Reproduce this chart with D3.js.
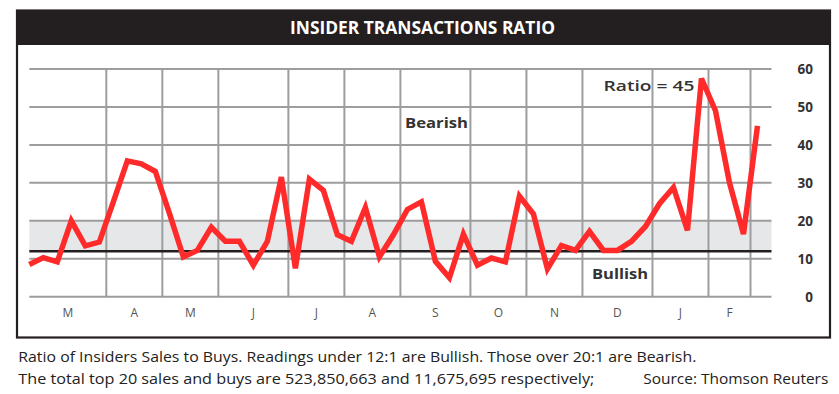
<!DOCTYPE html>
<html>
<head>
<meta charset="utf-8">
<script src="https://cdn.jsdelivr.net/npm/d3@7"></script>
<style>
  html, body { margin: 0; padding: 0; background: #fff; }
  svg { display: block; }
</style>
</head>
<body>
<svg id="chart" width="839" height="394"></svg>
<script>
// ---- data ----
const ratioValues = [8.5, 10.3, 9.2, 20, 13.4, 14.4, 25, 35.8, 35, 33, 22, 10.5, 12.2, 18.3, 14.6, 14.6, 8.3, 14.6, 31.5, 7.5,
  31, 28, 16.3, 14.6, 23.5, 10.5, 16.3, 23, 25, 9.3, 5, 16.5, 8.3, 10.2, 9.2, 26.5, 21.8, 7.3, 13.5, 12.2,
  17.2, 12.2, 12.2, 14.6, 18.5, 24.5, 28.8, 17.5, 57.5, 49, 30, 16.5, 45];
const weekCount = 53;                       // axis spans week 0 .. 53
const monthLabels = ["M", "A", "M", "J", "J", "A", "S", "O", "N", "D", "J", "F"];
const monthBoundaries = [5.5, 9.5, 13.5, 18.5, 22.5, 26.5, 31.5, 35.5, 39.5, 44.5, 48.5, 51.5];
const yTicks = [0, 10, 20, 30, 40, 50, 60];
const bullishLevel = 12;
const bearishLevel = 20;
const titleText = "INSIDER TRANSACTIONS RATIO";
const noteLine1 = "Ratio of Insiders Sales to Buys. Readings under 12:1 are Bullish. Those over 20:1 are Bearish.";
const noteLine2 = "The total top 20 sales and buys are 523,850,663 and 11,675,695 respectively;";
const sourceText = "Source: Thomson Reuters";

// ---- layout ----
const svg = d3.select("#chart");
const font = "'Open Sans', 'Noto Sans', sans-serif";
const dark = "#231f20";

const x = d3.scaleLinear().domain([0, weekCount]).range([29.3, 771.5]);
const y = d3.scaleLinear().domain([0, 60]).range([296.7, 69]);

// outer frame
svg.append("rect").attr("x", 17).attr("y", 10.5).attr("width", 813).attr("height", 327)
  .attr("fill", "#fff").attr("stroke", dark).attr("stroke-width", 2.2);
// title bar
svg.append("rect").attr("x", 16).attr("y", 10).attr("width", 815).attr("height", 35).attr("fill", dark);
svg.append("text").attr("x", 290).attr("y", 33.5)
  .attr("textLength", 265).attr("lengthAdjust", "spacingAndGlyphs")
  .attr("font-family", font).attr("font-weight", 700).attr("font-size", 17.5)
  .attr("fill", "#fff").text(titleText);

// band
svg.append("rect")
  .attr("x", x(0)).attr("width", x(weekCount) - x(0))
  .attr("y", y(bearishLevel)).attr("height", y(bullishLevel) - y(bearishLevel))
  .attr("fill", "#e6e7e8");

// horizontal grid
svg.append("g").selectAll("line").data(yTicks).join("line")
  .attr("x1", x(0)).attr("x2", x(weekCount))
  .attr("y1", d => y(d)).attr("y2", d => y(d))
  .attr("stroke", "#9d9d9d").attr("stroke-width", 2);

// vertical grid (month boundaries)
svg.append("g").selectAll("line").data(monthBoundaries).join("line")
  .attr("x1", d => x(d)).attr("x2", d => x(d))
  .attr("y1", y(60)).attr("y2", y(0))
  .attr("stroke", "#9d9d9d").attr("stroke-width", 2);

// bullish threshold line
svg.append("line")
  .attr("x1", x(0)).attr("x2", x(weekCount))
  .attr("y1", y(bullishLevel)).attr("y2", y(bullishLevel))
  .attr("stroke", dark).attr("stroke-width", 2.5);

// month labels
const starts = [0].concat(monthBoundaries);
svg.append("g").selectAll("text").data(monthLabels).join("text")
  .attr("x", (d, i) => x((starts[i] + starts[i + 1]) / 2))
  .attr("y", 316.5)
  .attr("text-anchor", "middle")
  .attr("font-family", font).attr("font-size", 12).attr("fill", "#555")
  .text(d => d);

// y axis on right
const yAxis = d3.axisRight(y).tickValues(yTicks).tickSize(0).tickPadding(0);
const yg = svg.append("g").attr("transform", "translate(813,0)").call(yAxis);
yg.select(".domain").remove();
yg.selectAll("text")
  .attr("text-anchor", "end").attr("x", 0).attr("dy", "0.36em")
  .attr("font-family", font).attr("font-weight", 700).attr("font-size", 13.5).attr("fill", "#333");

// ratio line
const line = d3.line().x((d, i) => x(i)).y(d => y(d));
svg.append("path").datum(ratioValues)
  .attr("d", line)
  .attr("fill", "none").attr("stroke", "#ff2b2b").attr("stroke-width", 5.5)
  .attr("stroke-linejoin", "miter").attr("stroke-miterlimit", 4);

// annotations
svg.append("text").attr("x", 405).attr("y", 127.5)
  .attr("font-family", font).attr("font-weight", 700).attr("font-size", 15).attr("fill", "#333")
  .attr("textLength", 63).attr("lengthAdjust", "spacingAndGlyphs").text("Bearish");
svg.append("text").attr("x", 592).attr("y", 278.5)
  .attr("font-family", font).attr("font-weight", 700).attr("font-size", 15).attr("fill", "#333")
  .attr("textLength", 56).attr("lengthAdjust", "spacingAndGlyphs").text("Bullish");
svg.append("text").attr("x", 603.5).attr("y", 90.5)
  .attr("font-family", font).attr("font-weight", 600).attr("font-size", 15).attr("fill", "#333")
  .attr("textLength", 91).attr("lengthAdjust", "spacingAndGlyphs").text("Ratio = 45");

// notes
svg.append("text").attr("x", 18.3).attr("y", 361.5)
  .attr("font-family", font).attr("font-size", 14).attr("fill", "#222")
  .attr("textLength", 678).attr("lengthAdjust", "spacingAndGlyphs").text(noteLine1);
svg.append("text").attr("x", 18.3).attr("y", 383.5)
  .attr("font-family", font).attr("font-size", 14).attr("fill", "#222")
  .attr("textLength", 576).attr("lengthAdjust", "spacingAndGlyphs").text(noteLine2);
svg.append("text").attr("x", 643.3).attr("y", 383.5)
  .attr("font-family", font).attr("font-size", 14).attr("fill", "#222")
  .attr("textLength", 185).attr("lengthAdjust", "spacingAndGlyphs").text(sourceText);
</script>
</body>
</html>
